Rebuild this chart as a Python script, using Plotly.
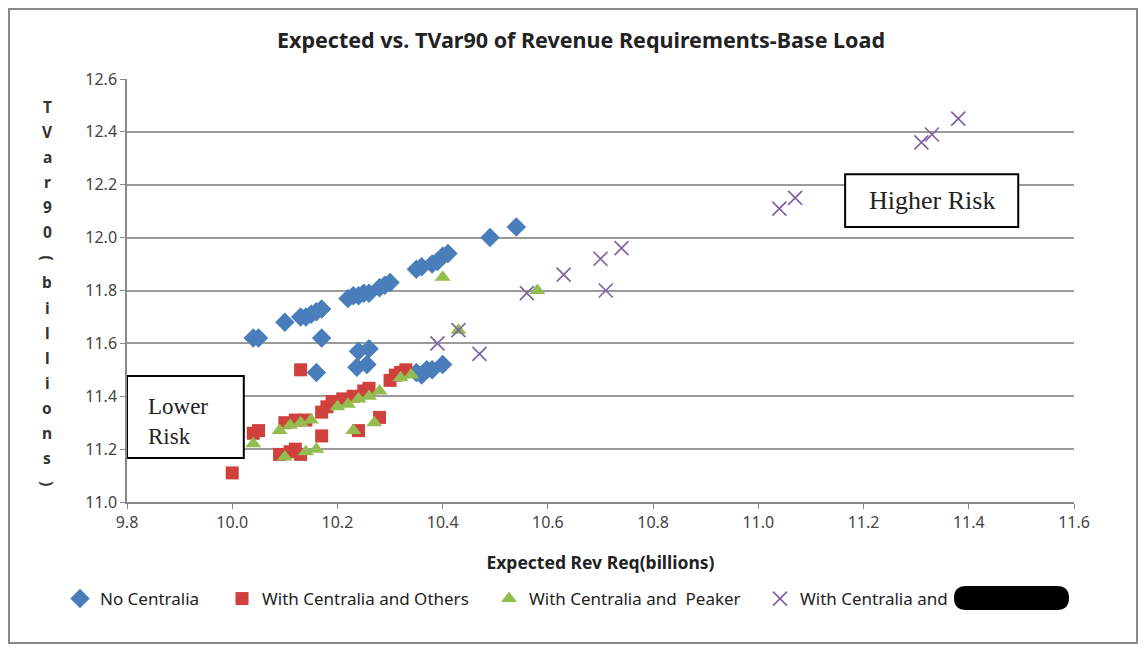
import plotly.graph_objects as go

# ---------------- data ----------------
no_centralia_x = [10.04, 10.05, 10.10, 10.13, 10.14, 10.15, 10.16, 10.17, 10.22, 10.23, 10.24, 10.25,
                  10.26, 10.28, 10.29, 10.30, 10.35, 10.36, 10.38, 10.39, 10.40, 10.41, 10.49, 10.54,
                  10.17, 10.16, 10.24, 10.26, 10.237, 10.256, 10.35, 10.36, 10.37, 10.38, 10.40]
no_centralia_y = [11.62, 11.62, 11.68, 11.70, 11.70, 11.71, 11.72, 11.73, 11.77, 11.78, 11.78, 11.79,
                  11.79, 11.81, 11.82, 11.83, 11.88, 11.89, 11.90, 11.91, 11.93, 11.94, 12.00, 12.04,
                  11.62, 11.49, 11.57, 11.58, 11.51, 11.52, 11.49, 11.48, 11.50, 11.50, 11.52]

others_x = [10.00, 10.13, 10.04, 10.05, 10.09, 10.11, 10.12, 10.13, 10.10, 10.12, 10.14, 10.17,
            10.17, 10.18, 10.19, 10.21, 10.23, 10.25, 10.26, 10.24, 10.28, 10.30, 10.31, 10.32, 10.33]
others_y = [11.11, 11.50, 11.26, 11.27, 11.18, 11.19, 11.20, 11.18, 11.30, 11.31, 11.31, 11.25,
            11.34, 11.36, 11.38, 11.39, 11.40, 11.42, 11.43, 11.27, 11.32, 11.46, 11.48, 11.49, 11.50]

peaker_x = [10.04, 10.10, 10.14, 10.16, 10.09, 10.11, 10.13, 10.15, 10.20, 10.22, 10.24, 10.26,
            10.28, 10.23, 10.27, 10.32, 10.34, 10.40, 10.43, 10.58]
peaker_y = [11.22, 11.17, 11.19, 11.20, 11.27, 11.29, 11.30, 11.31, 11.36, 11.37, 11.39, 11.40,
            11.42, 11.27, 11.30, 11.47, 11.48, 11.85, 11.65, 11.80]

other_x = [10.39, 10.43, 10.47, 10.56, 10.63, 10.70, 10.74, 10.71, 11.04, 11.07, 11.31, 11.33, 11.38]
other_y = [11.60, 11.65, 11.56, 11.79, 11.86, 11.92, 11.96, 11.80, 12.11, 12.15, 12.36, 12.39, 12.45]

series_names = ["No Centralia", "With Centralia and Others", "With Centralia and  Peaker",
                "With Centralia and"]
x_ticks = [9.8, 10.0, 10.2, 10.4, 10.6, 10.8, 11.0, 11.2, 11.4, 11.6]
y_ticks = [11.0, 11.2, 11.4, 11.6, 11.8, 12.0, 12.2, 12.4, 12.6]
title_text = "Expected vs. TVar90 of Revenue Requirements-Base Load"
x_title = "Expected Rev Req(billions)"
y_title = "TVar90(billions)"

# ---------------- layout geometry (page has an 8px body margin) ----------------
OFF = 8
W, H = 1130, 636
L, T = 127 - OFF, 79 - OFF
pw, ph = 947, 423
R, B = W - L - pw, H - T - ph

def px_x(p):  # screen px -> paper x
    return (p - OFF - L) / pw

def px_y(p):  # screen px -> paper y
    return (T + ph - (p - OFF)) / ph

sans = "Noto Sans, Open Sans, Arial"
fig = go.Figure()
fig.add_trace(go.Scatter(x=no_centralia_x, y=no_centralia_y, mode="markers", name=series_names[0],
                         legend="legend", showlegend=True,
                         marker=dict(symbol="diamond", size=15, color="#4A7EBB")))
fig.add_trace(go.Scatter(x=others_x, y=others_y, mode="markers", name=series_names[1],
                         legend="legend2", showlegend=True,
                         marker=dict(symbol="square", size=13, color="#D0403C")))
fig.add_trace(go.Scatter(x=peaker_x, y=peaker_y, mode="markers", name=series_names[2],
                         legend="legend3", showlegend=True,
                         marker=dict(symbol="triangle-up", size=14, color="#93BE4F")))
fig.add_trace(go.Scatter(x=other_x, y=other_y, mode="markers", name=series_names[3],
                         legend="legend4", showlegend=True,
                         marker=dict(symbol="x-thin", size=14, color="#8064A2",
                                     line=dict(width=1.7, color="#8064A2"))))

shapes = [
    dict(type="rect", xref="x", yref="y", x0=9.8, x1=10.022, y0=11.166, y1=11.477,
         line=dict(color="black", width=2), fillcolor="white", layer="above"),
    dict(type="rect", xref="x", yref="y", x0=11.165, x1=11.494, y0=12.04, y1=12.24,
         line=dict(color="black", width=2), fillcolor="white", layer="above"),
    dict(type="rect", xref="paper", yref="paper", x0=px_x(9), x1=px_x(1137), y0=px_y(643), y1=px_y(9),
         line=dict(color="#8a8a8a", width=2), fillcolor="rgba(0,0,0,0)", layer="below"),
    # redaction bar in legend
    dict(type="path", xref="paper", yref="paper",
         path=(f"M {px_x(966)},{px_y(586)} L {px_x(1057)},{px_y(586)} "
               f"Q {px_x(1069)},{px_y(586)} {px_x(1069)},{px_y(598)} "
               f"Q {px_x(1069)},{px_y(610)} {px_x(1057)},{px_y(610)} "
               f"L {px_x(966)},{px_y(610)} "
               f"Q {px_x(954)},{px_y(610)} {px_x(954)},{px_y(598)} "
               f"Q {px_x(954)},{px_y(586)} {px_x(966)},{px_y(586)} Z"),
         line=dict(color="black", width=0), fillcolor="black", layer="above"),
]

annotations = [
    dict(text="Lower<br>Risk", x=px_x(146), y=px_y(421), xref="paper", yref="paper", showarrow=False,
         font=dict(family="Liberation Serif", size=23, color="#222"), align="left",
         xanchor="left", yanchor="middle"),
    dict(text="Higher Risk", x=(11.165 + 11.494) / 2, y=12.14, xref="x", yref="y", showarrow=False,
         font=dict(family="Liberation Serif", size=26, color="#222")),
]

# stacked vertical y-axis title
chars = list(y_title)
top_px, bot_px = 107, 483
step = (bot_px - top_px) / (len(chars) - 1)
for i, ch in enumerate(chars):
    ang = 90 if ch in "()" else 0
    annotations.append(dict(text="<b>" + ch + "</b>", x=px_x(47), y=px_y(top_px + i * step),
                            xref="paper", yref="paper", showarrow=False, textangle=ang,
                            font=dict(family=sans, size=15.5, color="#333"),
                            xanchor="center", yanchor="middle"))

legend_font = dict(family=sans, size=17, color="#222")
def leg(text_start):
    return dict(orientation="h", x=px_x(text_start - 40), xanchor="left", y=px_y(581), yanchor="top",
                font=legend_font, itemwidth=30, bgcolor="rgba(0,0,0,0)")

fig.update_layout(
    width=W, height=H,
    margin=dict(l=L, r=R, t=T, b=B),
    showlegend=True,
    paper_bgcolor="white", plot_bgcolor="white",
    title=dict(text="<b>" + title_text + "</b>", x=(581 - OFF) / W, xanchor="center",
               y=1 - (40 - OFF) / H, yanchor="middle",
               font=dict(family=sans, size=21.5, color="#222")),
    xaxis=dict(range=[9.8, 11.6], tickvals=x_ticks, ticktext=[f"{v:.1f}" for v in x_ticks],
               showgrid=False, zeroline=False, showline=True, linecolor="#888", linewidth=1.5,
               ticks="outside", ticklen=5, tickcolor="#888",
               tickfont=dict(family=sans, size=16, color="#444"),
               title=dict(text="<b>" + x_title + "</b>", font=dict(family=sans, size=17.5, color="#222"),
                          standoff=25)),
    yaxis=dict(range=[11.0, 12.6], tickvals=y_ticks, ticktext=[f"{v:.1f}" for v in y_ticks],
               showgrid=True, gridcolor="#9a9a9a", gridwidth=1.5, zeroline=False,
               showline=True, linecolor="#888", linewidth=1.5,
               ticks="outside", ticklen=5, tickcolor="#888",
               tickfont=dict(family=sans, size=16, color="#444")),
    legend=leg(100),
    legend2=leg(262),
    legend3=leg(529),
    legend4=leg(800),
    shapes=shapes,
    annotations=annotations,
)

fig.write_html("out.html")
